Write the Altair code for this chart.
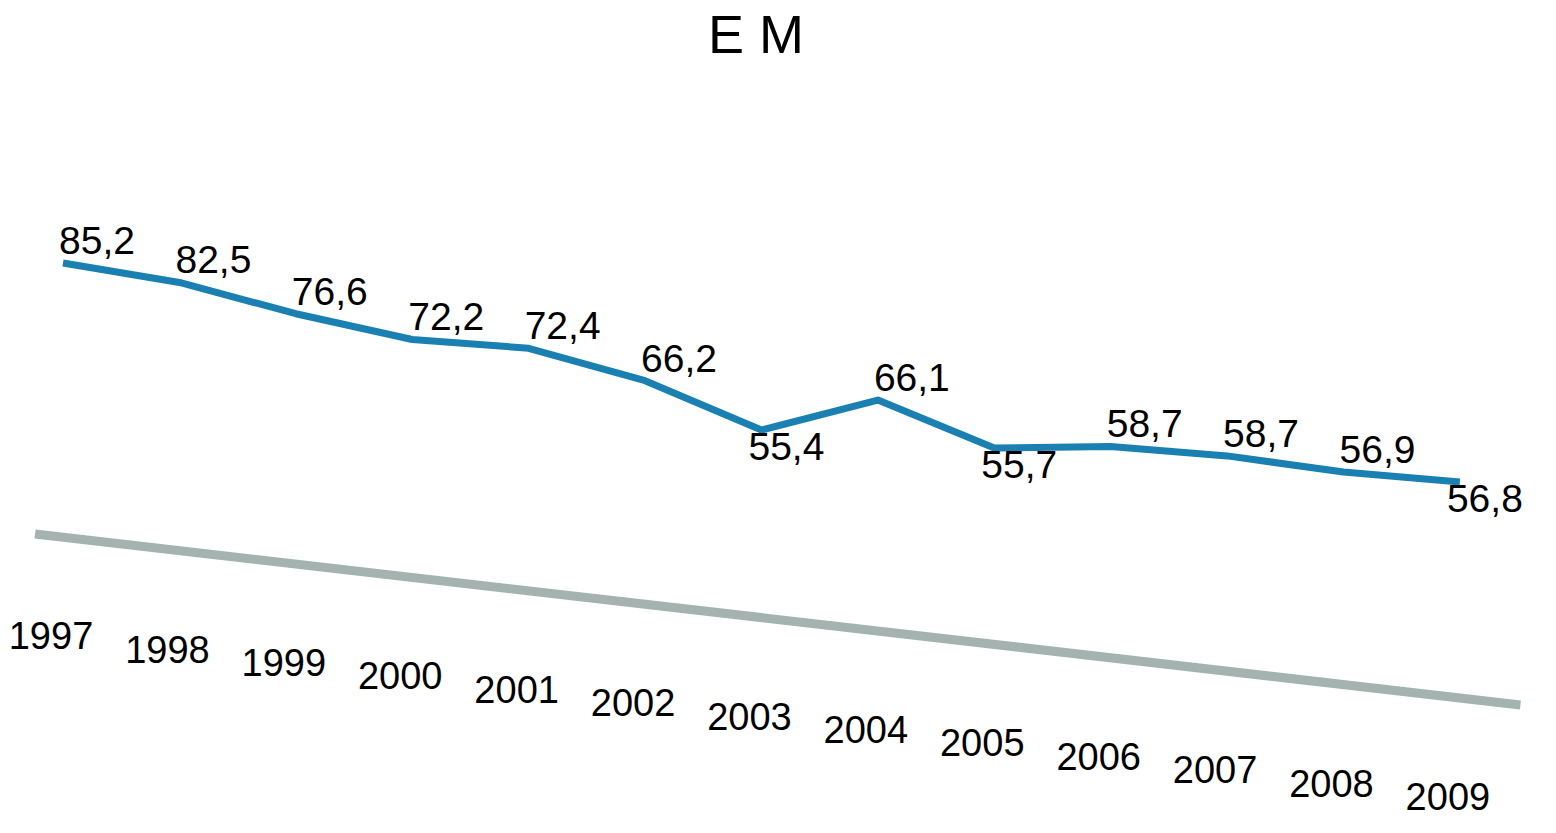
import altair as alt
import pandas as pd

YEARS = [1997, 1998, 1999, 2000, 2001, 2002, 2003, 2004, 2005, 2006, 2007, 2008, 2009]
VALUES = [85.2, 82.5, 76.6, 72.2, 72.4, 66.2, 55.4, 66.1, 55.7, 58.7, 58.7, 56.9, 56.8]
LABELS = ["85,2", "82,5", "76,6", "72,2", "72,4", "66,2", "55,4", "66,1", "55,7", "58,7", "58,7", "56,9", "56,8"]
BELOW = [2003, 2005, 2009]  # years whose value label sits under the line
TITLE = "E M"

BLUE = "#1a80b1"
GRAY = "#a4b3b0"
FONT = "Liberation Sans"

# perspective-like tilt of the drawing
TILT = 2.575          # value units the line drops per year
BASE0 = 10.93         # baseline level at the first year
BASE_SLOPE = 3.628    # baseline drop per year

df = pd.DataFrame({"year": YEARS, "value": VALUES, "label": LABELS})
df["below"] = df["year"].isin(BELOW)
base_df = pd.DataFrame({"year": [YEARS[0], YEARS[-1]], "end": ["start", "end"]})
title_df = pd.DataFrame({"t": [TITLE]})

xs = alt.Scale(domain=[1996.5275, 2009.757], nice=False, zero=False)
ys = alt.Scale(domain=[-67, 154.24], nice=False, zero=False)

first = YEARS[0]
disp_expr = f"datum.value - {TILT} * (datum.year - {first})"

X = alt.X("year:Q", scale=xs, axis=None)
Y = alt.Y("disp:Q", scale=ys, axis=None)

line = alt.Chart(df).transform_calculate(disp=disp_expr).mark_line(
    color=BLUE, strokeWidth=7, strokeJoin="round"
).encode(x=X, y=Y)

above_lbl = alt.Chart(df).transform_filter("!datum.below").transform_calculate(
    disp=disp_expr
).mark_text(font=FONT, fontSize=39, dx=34, dy=-21, baseline="middle", align="center", color="#000").encode(
    x=X, y=Y, text="label:N",
)

below_lbl = alt.Chart(df).transform_filter("datum.below").transform_calculate(
    disp=disp_expr
).mark_text(font=FONT, fontSize=39, dx=25, dy=18, baseline="middle", align="center", color="#000").encode(
    x=X, y=Y, text="label:N",
)

baseline = alt.Chart(base_df).transform_calculate(
    xe="datum.end == 'start' ? datum.year - 0.24 : datum.year + 0.52"
).transform_calculate(
    disp=f"{BASE0} - {BASE_SLOPE} * (datum.xe - {first})"
).mark_line(color=GRAY, strokeWidth=9).encode(
    x=alt.X("xe:Q", scale=xs, axis=None),
    y=Y,
)

year_lbl = alt.Chart(df).transform_calculate(
    disp=f"{BASE0} - {BASE_SLOPE} * (datum.year - {first})",
    ylab="'' + datum.year",
).mark_text(font=FONT, fontSize=38, dx=-12, dy=101, baseline="middle", align="center", color="#000").encode(
    x=X, y=Y, text="ylab:N",
)

title = alt.Chart(title_df).mark_text(
    font=FONT, fontSize=54, baseline="top", align="center", color="#000"
).encode(x=alt.value(748), y=alt.value(2), text="t:N")

chart = alt.layer(baseline, line, above_lbl, below_lbl, year_lbl, title).properties(
    width=1540,
    height=817,
    autosize=alt.AutoSizeParams(type="none"),
    padding={"left": 0, "top": 0, "right": 0, "bottom": 0},
).configure(background="white").configure_view(stroke=None)

chart.save("out.html", embed_options={"renderer": "svg", "actions": False})
